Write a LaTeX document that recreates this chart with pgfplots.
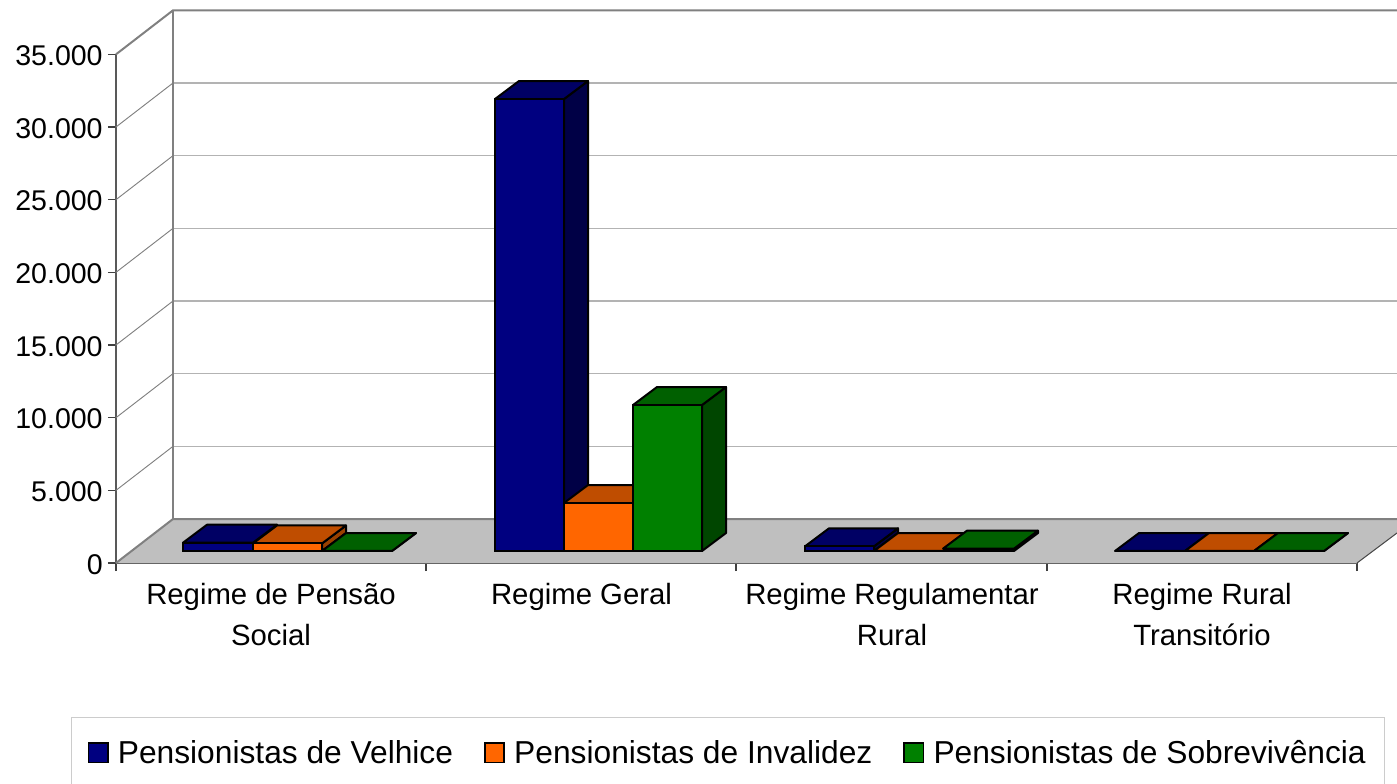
\documentclass[border=0pt]{standalone}
\usepackage{pgfplots}
\pgfplotsset{compat=1.18}
\usepackage{fontspec}
\setmainfont{Liberation Sans}
\definecolor{blueF}{RGB}{0,0,128}
\definecolor{blueT}{RGB}{0,0,100}
\definecolor{blueS}{RGB}{0,0,70}
\definecolor{orangeF}{RGB}{255,102,0}
\definecolor{orangeT}{RGB}{191,77,0}
\definecolor{orangeS}{RGB}{153,64,0}
\definecolor{greenF}{RGB}{0,128,0}
\definecolor{greenT}{RGB}{0,96,0}
\definecolor{greenS}{RGB}{0,70,0}
\definecolor{wall}{RGB}{128,128,128}
\definecolor{gridc}{RGB}{179,179,179}
% 1 px of the reference = 0.75pt; 1 value unit = 0.014534 px
% bars stand 826 units up from the floor edge, depth is 24 px by 1238 units
\newcommand{\depthfaces}[5]{%
  \edef\tmp{\noexpand\addplot[draw=black,line width=1.5pt,line join=round,fill=#5,forget plot] coordinates {
    (#2,826) (\the\numexpr#2+24\relax,2064) (\the\numexpr#2+24\relax,\the\numexpr#3+2064\relax) (#2,\the\numexpr#3+826\relax)} -- cycle;
    \noexpand\addplot[draw=black,line width=1.5pt,line join=round,fill=#4,forget plot] coordinates {
    (#1,\the\numexpr#3+826\relax) (#2,\the\numexpr#3+826\relax) (\the\numexpr#2+24\relax,\the\numexpr#3+2064\relax) (\the\numexpr#1+24\relax,\the\numexpr#3+2064\relax)} -- cycle;}%
  \tmp}
\begin{document}
\begin{tikzpicture}
\useasboundingbox (0,0) rectangle (1047.75pt,587.25pt);
\begin{axis}[
  at={(87pt,165pt)},anchor=south west,
  x=0.75pt,y=0.0109005pt,
  xmin=116,xmax=1357,ymin=0,ymax=35000,
  clip=false,
  axis lines=left,
  axis line style={-,draw=black!65,line width=1pt},
  tick align=outside,
  major tick length=6pt,
  minor tick length=6pt,
  tick style={black!75,line width=0.8pt},
  major x tick style={draw=none},
  ytick={0,5000,...,35000},
  scaled y ticks=false,
  tick label style={font=\fontsize{21.4}{26}\selectfont},
  yticklabel style={yshift=-1pt,xshift=-0.5pt,/pgf/number format/1000 sep={.},/pgf/number format/assume math mode=true},
  xtick={271,581.5,892,1202},
  minor xtick={116,426,736,1047,1357},
  xticklabels={Regime de Pensão\\Social,Regime Geral,Regime Regulamentar\\Rural,Regime Rural\\Transitório},
  xticklabel style={align=center,font=\fontsize{22}{30.75}\selectfont,yshift=-5.5pt},
  legend columns=3,
  legend cell align=left,
  legend image code/.code={\draw[#1,draw=black,line width=1.2pt,bar shift=0pt,yshift=-9pt] (0pt,-7.2pt) rectangle (14.5pt,7.2pt);},
  legend style={at={(axis cs:71,-10596)},anchor=north west,draw=black!20,line width=0.9pt,
    inner xsep=12pt,inner ysep=15pt,font=\fontsize{23.8}{28}\selectfont,
    /tikz/every even column/.append style={column sep=21.2pt},
    /tikz/every odd column/.append style={column sep=5pt}},
]
% floor and back wall
\addplot[draw=none,fill=black!25,forget plot] coordinates {(116,0)(173,3027)(1397,3027)(1397,2064)(1357,0)} -- cycle;
\addplot[wall,line width=1.5pt,forget plot] coordinates {(116,0)(173,3027)(1397,3027)};
\addplot[black!70,line width=0.8pt,forget plot] coordinates {(1357,0)(1397,2064)};
\addplot[gridc,line width=1pt,forget plot] coordinates {(173,8027)(1397,8027)};
\addplot[gridc,line width=1pt,forget plot] coordinates {(173,13027)(1397,13027)};
\addplot[gridc,line width=1pt,forget plot] coordinates {(173,18027)(1397,18027)};
\addplot[gridc,line width=1pt,forget plot] coordinates {(173,23027)(1397,23027)};
\addplot[gridc,line width=1pt,forget plot] coordinates {(173,28027)(1397,28027)};
\addplot[gridc,line width=1pt,forget plot] coordinates {(173,33027)(1397,33027)};
\addplot[wall,line width=0.7pt,forget plot] coordinates {(116,5000)(173,8027)};
\addplot[wall,line width=0.7pt,forget plot] coordinates {(116,10000)(173,13027)};
\addplot[wall,line width=0.7pt,forget plot] coordinates {(116,15000)(173,18027)};
\addplot[wall,line width=0.7pt,forget plot] coordinates {(116,20000)(173,23027)};
\addplot[wall,line width=0.7pt,forget plot] coordinates {(116,25000)(173,28027)};
\addplot[wall,line width=0.7pt,forget plot] coordinates {(116,30000)(173,33027)};
\addplot[wall,line width=1.5pt,forget plot] coordinates {(116,35000)(173,38027)(1397,38027)};
\addplot[wall,line width=1.5pt,forget plot] coordinates {(173,3027)(173,38027)};
% Pensionistas de Velhice
\depthfaces{183}{253}{570}{blueT}{blueS}
\depthfaces{495}{564}{31100}{blueT}{blueS}
\depthfaces{805}{874}{320}{blueT}{blueS}
\depthfaces{1115}{1185}{0}{blueT}{blueS}
\addplot[ybar,bar shift=0pt,bar width=52.1pt,yshift=9pt,draw=black,line width=1.5pt,fill=blueF]
  coordinates {(218,570)(529.5,31100)(839.5,320)(1150,0)};
\addlegendentry{Pensionistas de Velhice}
% Pensionistas de Invalidez
\depthfaces{253}{322}{520}{orangeT}{orangeS}
\depthfaces{564}{633}{3300}{orangeT}{orangeS}
\depthfaces{874}{943}{0}{orangeT}{orangeS}
\depthfaces{1185}{1254}{0}{orangeT}{orangeS}
\addplot[ybar,bar shift=0pt,bar width=52.1pt,yshift=9pt,draw=black,line width=1.5pt,fill=orangeF]
  coordinates {(287.5,520)(598.5,3300)(908.5,0)(1219.5,0)};
\addlegendentry{Pensionistas de Invalidez}
% Pensionistas de Sobrevivencia
\depthfaces{322}{392}{0}{greenT}{greenS}
\depthfaces{633}{702}{10045}{greenT}{greenS}
\depthfaces{943}{1014}{160}{greenT}{greenS}
\depthfaces{1254}{1324}{0}{greenT}{greenS}
\addplot[ybar,bar shift=0pt,bar width=52.1pt,yshift=9pt,draw=black,line width=1.5pt,fill=greenF]
  coordinates {(357,0)(667.5,10045)(978.5,160)(1289,0)};
\addlegendentry{Pensionistas de Sobrevivência}
\end{axis}
\end{tikzpicture}
\end{document}
